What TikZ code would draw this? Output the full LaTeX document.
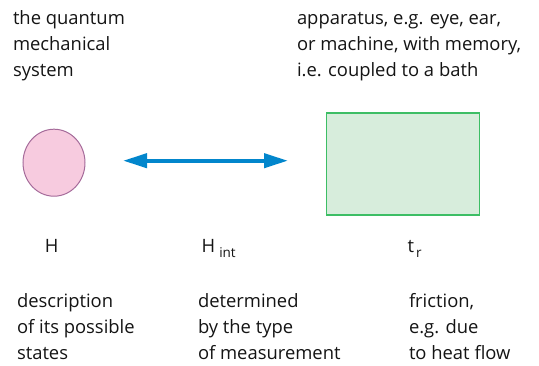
\documentclass[tikz,border=0pt]{standalone}
\usepackage{fontspec}
\setmainfont{Open Sans}
\usetikzlibrary{arrows.meta}
\definecolor{pinkfill}{HTML}{F7CBDF}
\definecolor{pinkline}{HTML}{A56B9A}
\definecolor{greenfill}{HTML}{D7EDDC}
\definecolor{greenline}{HTML}{3DBE65}
\definecolor{arrowblue}{HTML}{0286CC}
\definecolor{txt}{HTML}{141414}
\tikzset{
  lbl/.style={anchor=base west, inner sep=0pt, outer sep=0pt, align=left, text=txt,
    font=\fontsize{18.4}{25.8}\selectfont}
}
\begin{document}
\begin{tikzpicture}[x=1pt,y=-1pt]
\useasboundingbox (0,0) rectangle (539,365);
% shapes
\draw[fill=pinkfill, draw=pinkline, line width=1pt] (54,162.7) ellipse [x radius=31, y radius=33.5];
\node[draw=greenline, fill=greenfill, line width=1.3pt, minimum width=153pt, minimum height=102pt, inner sep=0pt, anchor=north west] (app) at (326,112.3) {};
\node[inner sep=0pt, minimum width=62pt, minimum height=67pt] (sys) at (54,162.7) {};
\coordinate (al) at (123,160.7);
\coordinate (ar) at (288,160.7);
\draw[arrowblue, line width=4pt, {Triangle[length=24pt,width=14pt]}-{Triangle[length=24pt,width=14pt]}] (al) -- (ar);
% top texts (anchored at last baseline)
\node[lbl] (t1) at (13,76.5) {the quantum\\mechanical\\system};
\node[lbl] (t2) at (297,76.5) {apparatus, e.g. eye, ear,\\or machine, with memory,\\i.e. coupled to a bath};
% symbols
\node[lbl] (h) at (45,252.3) {H};
\node[lbl] (hint) at (201.7,252.3) {H\hspace{4pt}\raisebox{-5pt}{\fontsize{13.5}{13.5}\selectfont int}};
\node[lbl] (tr) at (407.7,252.3) {t\hspace{2pt}\raisebox{-5pt}{\fontsize{13.5}{13.5}\selectfont r}};
% bottom texts
\node[lbl] (b1) at (17,359) {description\\of its possible\\states};
\node[lbl] (b2) at (198,359) {determined\\by the type\\of measurement};
\node[lbl] (b3) at (409,359) {friction,\\e.g. due\\to heat flow};
\end{tikzpicture}
\end{document}
